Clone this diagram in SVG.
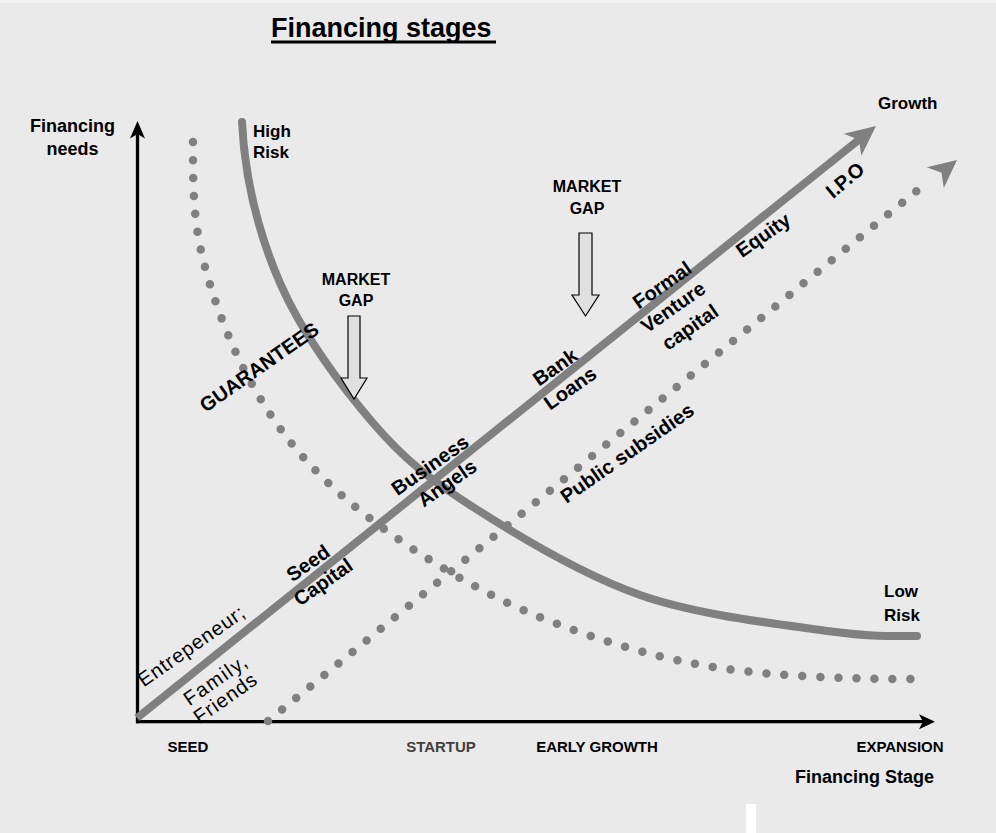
<svg xmlns="http://www.w3.org/2000/svg" width="996" height="833" viewBox="0 0 996 833">
  <style>
    text { font-family: "Liberation Sans", Arial, sans-serif; fill: #000; }
    .b { font-weight: bold; }
    .lbl { font-size: 17px; font-weight: bold; }
    .rot { font-size: 20px; font-weight: bold; text-anchor: middle; }
    .rotn { font-size: 20px; font-weight: normal; text-anchor: middle; }
    .stage { font-size: 15px; font-weight: bold; text-anchor: middle; }
    .gap { font-size: 16px; font-weight: bold; text-anchor: middle; }
    .axis { stroke: #000; stroke-width: 3.3; fill: none; }
    .curve { stroke: #808080; stroke-width: 8; fill: none; stroke-linecap: round; stroke-linejoin: round; }
    .dots { stroke: #808080; stroke-width: 8.5; fill: none; stroke-linecap: round; }
    .head { fill: #808080; }
    .gaparrow { fill: #e0e0e0; stroke: #000; stroke-width: 1.2; stroke-linejoin: miter; }
  </style>

  <!-- background -->
  <rect x="0" y="0" width="996" height="833" fill="#eaeaea"/>
  <rect x="0" y="0" width="996" height="3" fill="#f3f3f3"/>
  <rect x="746" y="804" width="10" height="29" fill="#ffffff"/>

  <!-- title -->
  <g id="title">
    <text x="271" y="37" class="b" font-size="27">Financing stages</text>
    <rect x="271" y="40.5" width="225" height="3" fill="#000"/>
  </g>

  <g id="connectors">
    <!-- axes -->
    <line class="axis" x1="137.5" y1="723.3" x2="137.5" y2="134"/>
    <polygon points="137.5,121 145,138.5 137.5,134 130,138.5" fill="#000"/>
    <line class="axis" x1="136" y1="721.7" x2="924" y2="721.7"/>
    <polygon points="935,721.7 919,714.2 923,721.7 919,729.2" fill="#000"/>

    <!-- falling dotted curve -->
    <path class="dots" stroke-dasharray="0 18"
          d="M193,142 C193,182 192.8,215.8 202,255 C211.2,294.2 228.3,340.3 248,377 C267.7,413.7 289.7,444.5 320,475 C350.3,505.5 390,535 430,560 C470,585 511.7,607 560,625 C608.3,643 660.8,659.2 720,668 C779.2,676.8 855,679 915,679"/>

    <!-- rising dotted line with arrowhead -->
    <path class="dots" stroke-dasharray="0 18.2" d="M268,721 L930,180"/>
    <polygon class="head" points="957,160 943.8,188.1 941.5,172.7 926.8,167.3"/>

    <!-- risk curve: high risk to low risk -->
    <path class="curve"
          d="M242,122 C245,182 258.2,232.8 280,283 C301.8,333.2 340.8,385.7 373,423 C405.2,460.3 428.5,478.3 473,507 C517.5,535.7 581,574.3 640,595 C699,615.7 780.8,624.2 827,631 C873,637 887,636 917,636"/>

    <!-- growth arrow -->
    <line x1="137" y1="718" x2="860.4" y2="138.5" stroke="#808080" stroke-width="8"/>
    <polygon class="head" points="876,126 861.4,155.7 858.8,139.8 843.9,133.8"/>
  </g>

  <!-- axis labels -->
  <g id="y-axis-label">
    <text x="72.5" y="132" class="b" font-size="18" text-anchor="middle">Financing</text>
    <text x="72.5" y="155" class="b" font-size="18" text-anchor="middle">needs</text>
  </g>
  <g id="x-axis-label">
    <text x="864.5" y="783" class="b" font-size="18" text-anchor="middle">Financing Stage</text>
  </g>
  <g id="growth-label">
    <text x="878" y="109" class="lbl">Growth</text>
  </g>
  <g id="high-risk">
    <text x="253" y="137" class="lbl">High</text>
    <text x="253" y="158" class="lbl">Risk</text>
  </g>
  <g id="low-risk">
    <text x="884" y="597" class="lbl">Low</text>
    <text x="884" y="621" class="lbl">Risk</text>
  </g>

  <!-- stages -->
  <g id="stage-seed"><text x="188" y="752" class="stage">SEED</text></g>
  <g id="stage-startup"><text x="441" y="752" class="stage" style="fill:#404040">STARTUP</text></g>
  <g id="stage-early-growth"><text x="597" y="752" class="stage">EARLY GROWTH</text></g>
  <g id="stage-expansion"><text x="900" y="752" class="stage">EXPANSION</text></g>

  <!-- market gaps -->
  <g id="market-gap-1">
    <text x="356" y="285" class="gap">MARKET</text>
    <text x="356" y="306" class="gap">GAP</text>
    <polygon class="gaparrow" points="348,316 360,316 360,378 367,378 354,399 341,378 348,378"/>
  </g>
  <g id="market-gap-2">
    <text x="587" y="192" class="gap">MARKET</text>
    <text x="587" y="214" class="gap">GAP</text>
    <polygon class="gaparrow" points="579,233 592,233 592,295 599,295 585.5,316 572,295 579,295"/>
  </g>

  <!-- financing sources along the growth line -->
  <g id="entrepreneur">
    <text class="rotn" transform="translate(191,646) rotate(-35)" dy=".35em" textLength="125" lengthAdjust="spacing">Entrepeneur;</text>
  </g>
  <g id="family-friends">
    <text class="rotn" transform="translate(215,680) rotate(-35)" dy=".35em" textLength="72" lengthAdjust="spacing">Family,</text>
    <text class="rotn" transform="translate(225,698) rotate(-35)" dy=".35em" textLength="72" lengthAdjust="spacing">Friends</text>
  </g>
  <g id="seed-capital">
    <text class="rot" transform="translate(308,563) rotate(-35)" dy=".35em">Seed</text>
    <text class="rot" transform="translate(323,582) rotate(-35)" dy=".35em">Capital</text>
  </g>
  <g id="business-angels">
    <text class="rot" transform="translate(430,465) rotate(-35)" dy=".35em">Business</text>
    <text class="rot" transform="translate(447,483) rotate(-35)" dy=".35em">Angels</text>
  </g>
  <g id="bank-loans">
    <text class="rot" transform="translate(555,367) rotate(-35)" dy=".35em">Bank</text>
    <text class="rot" transform="translate(570,388) rotate(-35)" dy=".35em">Loans</text>
  </g>
  <g id="venture-capital">
    <text class="rot" transform="translate(662,285) rotate(-35)" dy=".35em">Formal</text>
    <text class="rot" transform="translate(673,307) rotate(-35)" dy=".35em">Venture</text>
    <text class="rot" transform="translate(690,327) rotate(-35)" dy=".35em">capital</text>
  </g>
  <g id="equity">
    <text class="rot" transform="translate(763,235) rotate(-35)" dy=".35em">Equity</text>
  </g>
  <g id="ipo">
    <text class="rot" transform="translate(845,180) rotate(-40)" dy=".35em">I.P.O</text>
  </g>
  <g id="public-subsidies">
    <text class="rot" transform="translate(627,453) rotate(-35)" dy=".35em">Public subsidies</text>
  </g>
  <g id="guarantees">
    <text class="rot" transform="translate(259,367) rotate(-35)" dy=".35em">GUARANTEES</text>
  </g>
</svg>
